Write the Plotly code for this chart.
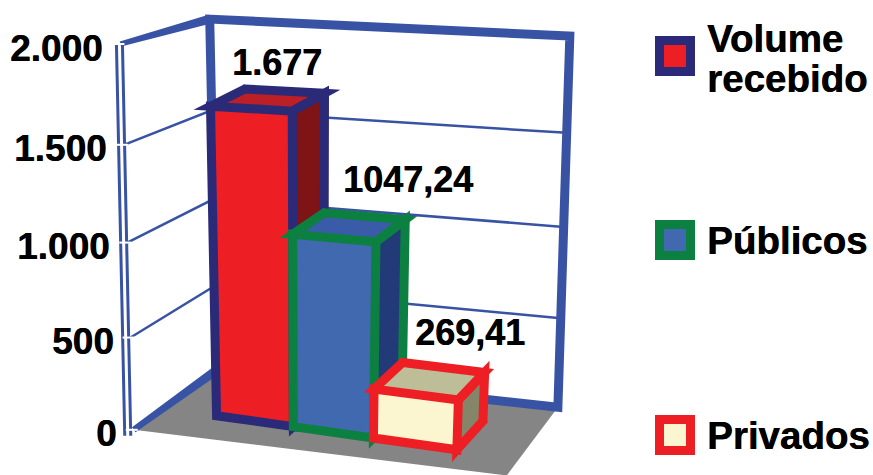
import numpy as np
import plotly.graph_objects as go

# ---- data ----
categories = ["Volume recebido", "Públicos", "Privados"]
legend_lines = [["Volume", "recebido"], ["Públicos"], ["Privados"]]
values = [1677, 1047.24, 269.41]
value_labels = ["1.677", "1047,24", "269,41"]
tick_values = [0, 500, 1000, 1500, 2000]
tick_labels = ["0", "500", "1.000", "1.500", "2.000"]

# ---- styles ----
FONT = "Liberation Sans"
WALL = "#3953a4"
FLOOR = "#858585"
face_front = ["#ed1f24", "#4169b0", "#fbf6cf"]
face_top = ["#bc1f26", "#3a5ca8", "#bdbd98"]
face_side = ["#7f1416", "#233a78", "#85856a"]
edge = ["#2a2a78", "#0c8040", "#ed1f24"]
EDGE_W = 9


def camera(anchors):
    """Fit a 3x4 projective camera; input (x, depth, value) -> page pixels."""
    A, b = [], []
    for (X, Y, Z), (u, v) in anchors:
        Z = Z / 2000
        u, v = u / 1000, v / 1000
        A.append([X, Y, Z, 1, 0, 0, 0, 0, -u * X, -u * Y, -u * Z]); b.append(u)
        A.append([0, 0, 0, 0, X, Y, Z, 1, -v * X, -v * Y, -v * Z]); b.append(v)
    p = np.linalg.lstsq(np.array(A, float), np.array(b, float), rcond=None)[0]

    def project(X, Y, Z):
        Z = Z / 2000
        w = p[8] * X + p[9] * Y + p[10] * Z + 1
        return ((p[0] * X + p[1] * Y + p[2] * Z + p[3]) / w * 1000,
                (p[4] * X + p[5] * Y + p[6] * Z + p[7]) / w * 1000)
    return project


# camera of the chart box: x 0..1, depth 0 (front)..1 (back)
box = camera([
    ((0, 1, 0), (214, 372)), ((0, 1, 1000), (213, 200)), ((0, 1, 2000), (212, 19)),
    ((1, 1, 0), (559, 403)), ((1, 1, 1000), (564, 227)), ((1, 1, 2000), (570, 37)),
    ((0, 0, 0), (138, 430)), ((0, 0, 1000), (127, 238)), ((0, 0, 2000), (118, 45)),
    ((1, 0, 0), (505, 479)),
])
# camera of the bars: x = category slot 0..3, depth 0..1
bars = camera([
    ((0, 0, 0), (217, 416)), ((1, 0, 0), (292, 426)), ((2, 0, 0), (375, 438)), ((3, 0, 0), (458, 450)),
    ((0, 0, 1677), (209, 107)), ((1, 0, 1677), (293, 111)), ((0, 1, 1677), (245, 88)), ((1, 1, 1677), (326, 93)),
    ((1, 0, 1047), (292, 235)), ((2, 0, 1047), (375, 242)), ((1, 1, 1047), (325, 214)), ((2, 1, 1047), (405, 221)),
    ((2, 0, 269), (375, 388)), ((3, 0, 269), (458, 400)), ((3, 1, 269), (483, 368)), ((2, 1, 269), (402, 361)),
    ((3, 1, 0), (483, 426)),
])

fig = go.Figure()


def poly(pts, color, line=None, width=0):
    xs, ys = zip(*pts)
    fig.add_trace(go.Scatter(
        x=list(xs) + [xs[0]], y=list(ys) + [ys[0]], mode="lines", fill="toself",
        fillcolor=color, line=dict(color=line or color, width=width),
        hoverinfo="skip", showlegend=False))


def path(pts, color, width):
    xs, ys = zip(*pts)
    fig.add_trace(go.Scatter(x=list(xs), y=list(ys), mode="lines",
                             line=dict(color=color, width=width),
                             hoverinfo="skip", showlegend=False))


def band(a, b, w0, w1, color):
    a, b = np.array(a), np.array(b)
    n = (b - a)[::-1] * [1, -1]
    n = n / np.hypot(*n)
    poly([a + n * w0 / 2, b + n * w1 / 2, b - n * w1 / 2, a - n * w0 / 2], color)


def miters(pts, color, width):
    """Sharp miter joins at every corner of a closed outline."""
    pts = [np.array(p, float) for p in pts]
    n = len(pts)
    for k in range(n):
        c, a, b = pts[k], pts[k - 1], pts[(k + 1) % n]
        u = (a - c) / np.hypot(*(a - c))
        v = (b - c) / np.hypot(*(b - c))
        cos_t = float(np.dot(u, v))
        half = np.arccos(np.clip(cos_t, -1, 1)) / 2
        if half > np.radians(80):
            continue
        tip = c - (u + v) / np.hypot(*(u + v)) * (width / 2) / np.sin(half)
        # outer offsets of the two edges, on the side of the tip
        nu = np.array([-u[1], u[0]])
        nu = nu if np.dot(nu, tip - c) > 0 else -nu
        nv = np.array([-v[1], v[0]])
        nv = nv if np.dot(nv, tip - c) > 0 else -nv
        poly([c, c + nu * width / 2, tip, c + nv * width / 2], color)


# floor
poly([box(0, 0, 0), box(0, 1, 0), box(1, 1, 0), box(1, 0, 0)], FLOOR)

# grid lines on both walls
for t in tick_values[1:-1]:
    path([box(0, 0, t), box(0, 1, t), box(1, 1, t)], WALL, 2.5)

# heavy frame of the back and the left wall
path([box(0, 1, 0), box(0, 1, 2000), box(1, 1, 2000), box(1, 1, 0), box(0, 1, 0)], WALL, 9)
band(box(0, 0, 2000), box(0, 1, 2000), 5, 9, WALL)
band(box(0, 0, 0), box(0, 1, 0), 6, 9, WALL)

# double line on the front edge of the left wall, with white tick notches
for off in (-4, 2):
    a, b = box(0, 0, 2000), box(0, 0, 0)
    path([(a[0] + off, a[1]), (b[0] + off - 5, b[1] + 6)], WALL, 3)
for t in tick_values:
    x, y = box(0, 0, t)
    path([(x - 8, y), (x + 4, y)], "#ffffff", 2)

# bars, back to front
for i, v in enumerate(values):
    fb = [bars(i, 0, 0), bars(i + 1, 0, 0)]
    ft = [bars(i, 0, v), bars(i + 1, 0, v)]
    bt = [bars(i, 1, v), bars(i + 1, 1, v)]
    bb = bars(i + 1, 1, 0)
    c = edge[i]
    miters([ft[0], bt[0], bt[1], ft[1]], c, EDGE_W)
    miters([ft[1], bt[1], bb, fb[1]], c, EDGE_W)
    poly([ft[1], bt[1], bb, fb[1]], face_side[i])
    poly([ft[0], bt[0], bt[1], ft[1]], face_top[i])
    poly([fb[0], ft[0], ft[1], fb[1]], face_front[i])
    path([ft[1], bt[1], bb, fb[1]], c, EDGE_W)
    path([ft[0], bt[0], bt[1], ft[1], ft[0], fb[0], fb[1], ft[1]], c, EDGE_W)


def label_font(size):
    return dict(family=FONT, size=size, color="#000000", weight="bold", shadow="0.5px 0 0 #000000")


# value labels, placed relative to each bar's top
label_offset = [(9, -37), (58, -48), (40, -48)]
for i, v in enumerate(values):
    corners = [bars(i, 0, v), bars(i + 1, 0, v), bars(i, 1, v), bars(i + 1, 1, v)]
    cx, cy = np.mean(corners, axis=0)
    fig.add_annotation(x=cx + label_offset[i][0], y=cy + label_offset[i][1], text=value_labels[i],
                       showarrow=False, xanchor="center", yanchor="middle", font=label_font(36))

# axis tick labels
for t, lab in zip(tick_values, tick_labels):
    x, y = box(0, 0, t)
    fig.add_annotation(x=x - 15, y=y + 4, text=lab, showarrow=False, xanchor="right", yanchor="middle",
                       font=label_font(37))

# legend
legend_y = [56, 240, 435]
line_offset = [[-18, 22], [0], [0]]
for i, name in enumerate(categories):
    fig.add_trace(go.Scatter(x=[675], y=[legend_y[i]], mode="markers", name=name,
                             marker=dict(symbol="square", size=31, color=face_front[i],
                                         line=dict(color=edge[i], width=9)),
                             hoverinfo="skip", showlegend=False))
    for txt, off in zip(legend_lines[i], line_offset[i]):
        fig.add_annotation(x=705, y=legend_y[i] + off, text=txt, showarrow=False,
                           xanchor="left", yanchor="middle", align="left", font=label_font(38.5))

fig.update_layout(
    width=873, height=475, margin=dict(l=0, r=0, t=0, b=0),
    paper_bgcolor="#ffffff", plot_bgcolor="#ffffff",
    xaxis=dict(range=[0, 873], visible=False, fixedrange=True),
    yaxis=dict(range=[475, 0], visible=False, fixedrange=True),
)
fig.write_html("out.html", config=dict(displayModeBar=False),
               post_script="document.body.style.margin='0';")
